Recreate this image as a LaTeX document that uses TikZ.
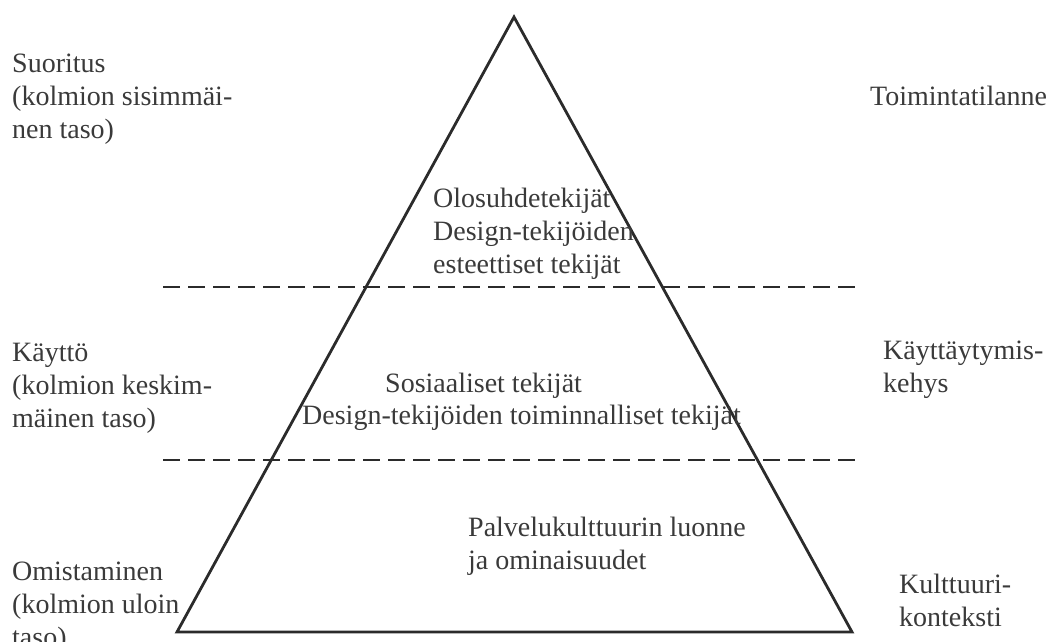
\documentclass[tikz,border=0pt]{standalone}
\usepackage{fontspec}
\setmainfont{Liberation Serif}
\begin{document}
\begin{tikzpicture}[x=1pt,y=-1pt,
  % multi-line labels are placed by the baseline of their last line
  label/.style={anchor=base west,inner sep=0pt,align=left,text=txt,
    font=\fontsize{28}{33}\selectfont},
  edge/.style={draw=ink,line width=2.8pt,line join=miter},
  level/.style={draw=ink,line width=2.6pt,dash pattern=on 17pt off 8pt}]
\definecolor{ink}{HTML}{2B2B2B}
\definecolor{txt}{HTML}{3A3A3A}
\useasboundingbox (0,0) rectangle (1053,641);

% pyramid corners
\coordinate (apex) at (514,17);
\coordinate (bl) at (177,632);
\coordinate (br) at (852,632);
% level separators
\coordinate (u1) at (163,287);
\coordinate (u2) at (858,287);
\coordinate (l1) at (163,460);
\coordinate (l2) at (858,460);

\draw[level] (u1) -- (u2);
\draw[level] (l1) -- (l2);
\draw[edge] (apex) -- (br) -- (bl) -- cycle;

% inner texts
\node[label] (top) at (433,273) {Olosuhdetekijät\\Design-tekijöiden\\esteettiset tekijät};
\node[label] (mid1) at (385,392) {Sosiaaliset tekijät};
\node[label] (mid2) at (302,424) {Design-tekijöiden toiminnalliset tekijät};
\node[label] (bot) at (468,569) {Palvelukulttuurin luonne\\ja ominaisuudet};

% left column
\node[label] (suor) at (12,138) {Suoritus\\(kolmion sisimmäi-\\nen taso)};
\node[label] (kayt) at (12,427) {Käyttö\\(kolmion keskim-\\mäinen taso)};
\node[label] (omis) at (12,646) {Omistaminen\\(kolmion uloin\\taso)};

% right column
\node[label] (toim) at (870,105) {Toimintatilanne};
\node[label] (kehys) at (883,392) {Käyttäytymis-\\kehys};
\node[label] (kult) at (899,626) {Kulttuuri-\\konteksti};
\end{tikzpicture}
\end{document}
